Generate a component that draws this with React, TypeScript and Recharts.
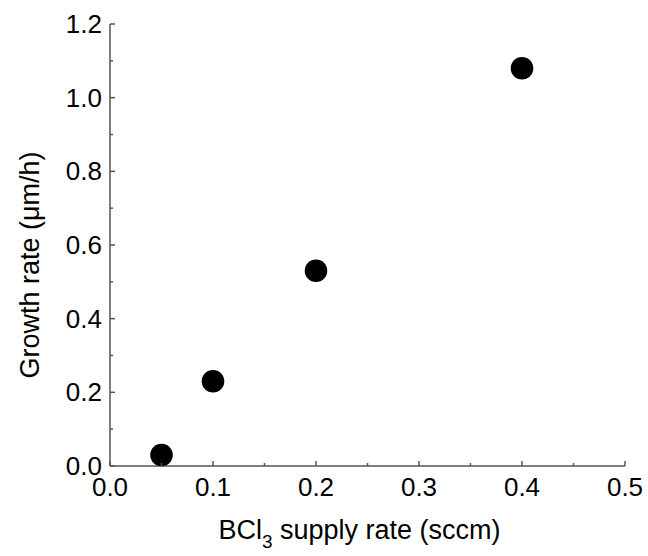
import { ScatterChart, Scatter, XAxis, YAxis, Label } from 'recharts'

const supplyRate = [0.05, 0.1, 0.2, 0.4]
const growthRate = [0.03, 0.23, 0.53, 1.08]

const xTicks = [0, 0.05, 0.1, 0.15, 0.2, 0.25, 0.3, 0.35, 0.4, 0.45, 0.5]
const yTicks = [0, 0.1, 0.2, 0.3, 0.4, 0.5, 0.6, 0.7, 0.8, 0.9, 1.0, 1.1, 1.2]

const data = supplyRate.map((x, i) => ({ x, y: growthRate[i] }))

const FONT = '"Liberation Sans", Arial, sans-serif'
const AXIS = '#555'
const MAJOR = 5
const MINOR = 3
const TICK_FS = 26
const TITLE_FS = 27

const isMajorX = (v: number) => Math.round(v * 100) % 10 === 0
const isMajorY = (v: number) => Math.round(v * 10) % 2 === 0

function BottomTick({ x, y, payload }: any) {
  const v = payload.value
  const len = isMajorX(v) ? MAJOR : MINOR
  return (
    <g>
      <line x1={x} y1={y} x2={x} y2={y - len} stroke={AXIS} strokeWidth={1.5} />
      {isMajorX(v) && (
        <text x={x} y={y + 30} textAnchor="middle" fontSize={TICK_FS} fontFamily={FONT} fill="#000">
          {v.toFixed(1)}
        </text>
      )}
    </g>
  )
}

function TopTick({ x, y, payload }: any) {
  const len = isMajorX(payload.value) ? MAJOR : MINOR
  return <line x1={x} y1={y} x2={x} y2={y + len} stroke={AXIS} strokeWidth={1.5} />
}

function LeftTick({ x, y, payload }: any) {
  const v = payload.value
  const len = isMajorY(v) ? MAJOR : MINOR
  return (
    <g>
      <line x1={x} y1={y} x2={x + len} y2={y} stroke={AXIS} strokeWidth={1.5} />
      {isMajorY(v) && (
        <text x={x - 8} y={y + 9} textAnchor="end" fontSize={TICK_FS} fontFamily={FONT} fill="#000">
          {v.toFixed(1)}
        </text>
      )}
    </g>
  )
}

function RightTick({ x, y, payload }: any) {
  const len = isMajorY(payload.value) ? MAJOR : MINOR
  return <line x1={x} y1={y} x2={x - len} y2={y} stroke={AXIS} strokeWidth={1.5} />
}

function XTitle({ viewBox }: any) {
  const cx = viewBox.x + viewBox.width / 2 - 8
  return (
    <text x={cx} y={539} textAnchor="middle" fontSize={TITLE_FS} fontFamily={FONT} fill="#000">
      BCl<tspan fontSize={19} dy={9}>3</tspan>
      <tspan dy={-9}> supply rate (sccm)</tspan>
    </text>
  )
}

function YTitle({ viewBox }: any) {
  const cy = viewBox.y + viewBox.height / 2 + 20
  return (
    <text
      x={30}
      y={cy}
      transform={`rotate(-90, 30, ${cy})`}
      textAnchor="middle"
      dominantBaseline="central"
      fontSize={TITLE_FS}
      fontFamily={FONT}
      fill="#000"
    >
      Growth rate (μm/h)
    </text>
  )
}

export default function App() {
  return (
    <div style={{ position: 'absolute', left: 0, top: 0, background: '#fff' }}>
      <ScatterChart width={648} height={556} margin={{ top: 24, right: 23, bottom: 0, left: 0 }}>
        <XAxis
          type="number"
          dataKey="x"
          xAxisId="bottom"
          orientation="bottom"
          domain={[0, 0.5]}
          ticks={xTicks}
          interval={0}
          height={90}
          tickSize={0}
          tickMargin={0}
          tickLine={false}
          tick={<BottomTick />}
          axisLine={{ stroke: AXIS, strokeWidth: 1.5 }}
        >
          <Label content={<XTitle />} />
        </XAxis>
        <XAxis
          type="number"
          dataKey="x"
          xAxisId="top"
          orientation="top"
          domain={[0, 0.5]}
          ticks={xTicks}
          interval={0}
          height={0}
          tickSize={0}
          tickMargin={0}
          tickLine={false}
          tick={<TopTick />}
          axisLine={{ stroke: AXIS, strokeWidth: 1.5 }}
        />
        <YAxis
          type="number"
          dataKey="y"
          yAxisId="left"
          orientation="left"
          domain={[0, 1.2]}
          ticks={yTicks}
          interval={0}
          width={110}
          tickSize={0}
          tickMargin={0}
          tickLine={false}
          tick={<LeftTick />}
          axisLine={{ stroke: AXIS, strokeWidth: 1.5 }}
        >
          <Label content={<YTitle />} />
        </YAxis>
        <YAxis
          type="number"
          dataKey="y"
          yAxisId="right"
          orientation="right"
          domain={[0, 1.2]}
          ticks={yTicks}
          interval={0}
          width={0}
          tickSize={0}
          tickMargin={0}
          tickLine={false}
          tick={<RightTick />}
          axisLine={{ stroke: AXIS, strokeWidth: 1.5 }}
        />
        <Scatter
          data={data}
          xAxisId="bottom"
          yAxisId="left"
          isAnimationActive={false}
          shape={(p: any) => <circle cx={p.cx} cy={p.cy} r={11.3} fill="#000" />}
        />
      </ScatterChart>
    </div>
  )
}
